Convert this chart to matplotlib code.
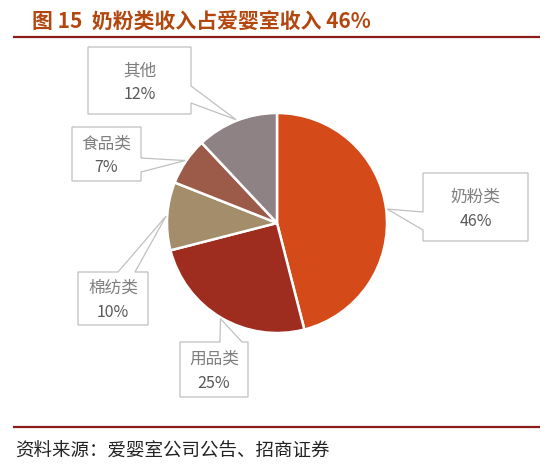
import matplotlib
import numpy as np

from matplotlib import pyplot as plt
from matplotlib.patches import Polygon

matplotlib.rcParams["font.family"] = ["Noto Sans CJK SC", "DejaVu Sans"]

# data
categories = ["奶粉类", "用品类", "棉纺类", "食品类", "其他"]
shares = [46, 25, 10, 7, 12]
colors = ["#D44A18", "#9E2C1F", "#A38D6B", "#9C5B48", "#8F8284"]

title = "图 15  奶粉类收入占爱婴室收入 46%"
source = "资料来源：爱婴室公司公告、招商证券"

# layout (pixels, y down)
W, H = 554, 468
pie_center = (277, 223)
pie_radius = 110
# box: x0, y0, x1, y1, side of pointer, base start, base end
boxes = {
    "奶粉类": (423, 173, 528, 241, "left", 212, 230),
    "用品类": (180, 342, 248, 397, "top", 220, 242),
    "棉纺类": (78, 272, 148, 325, "top", 118, 135),
    "食品类": (72, 127, 141, 181, "right", 158, 172),
    "其他": (88, 47, 191, 114, "right", 86, 103),
}

fig = plt.figure(figsize=(W / 100, H / 100), dpi=100)
ax = fig.add_axes([0, 0, 1, 1])

wedges, _ = ax.pie(
    shares,
    colors=colors,
    startangle=-90,
    counterclock=True,
    center=pie_center,
    radius=pie_radius,
    wedgeprops={"edgecolor": "white", "linewidth": 1.8},
)

ax.set_xlim(0, W)
ax.set_ylim(H, 0)
ax.set_aspect("equal")
ax.axis("off")


def callout(x0, y0, x1, y1, side, b0, b1, tip):
    if side == "right":
        pts = [(x0, y0), (x1, y0), (x1, b0), tip, (x1, b1), (x1, y1), (x0, y1)]
    elif side == "left":
        pts = [(x0, y0), (x1, y0), (x1, y1), (x0, y1), (x0, b1), tip, (x0, b0)]
    else:  # top
        pts = [(x0, y0), (b0, y0), tip, (b1, y0), (x1, y0), (x1, y1), (x0, y1)]
    ax.add_patch(Polygon(pts, closed=True, facecolor="white",
                         edgecolor="#C0C0C0", linewidth=0.9, zorder=3))


for w, name, val in zip(wedges, categories, shares):
    mid = np.deg2rad((w.theta1 + w.theta2) / 2)
    tip = (pie_center[0] + pie_radius * 1.01 * np.cos(mid),
           pie_center[1] + pie_radius * 1.01 * np.sin(mid))
    x0, y0, x1, y1, side, b0, b1 = boxes[name]
    callout(x0, y0, x1, y1, side, b0, b1, tip)
    cx = (x0 + x1) / 2
    cy = (y0 + y1) / 2
    ax.text(cx, cy - 10, name, ha="center", va="center", fontsize=12,
            color="#7F7F7F", zorder=4)
    ax.text(cx, cy + 14, f"{val}%", ha="center", va="center", fontsize=11.5,
            color="#595959", zorder=4)

# title and rules
ax.text(32, 22, title, ha="left", va="center", fontsize=15, fontweight="bold",
        color="#B2480F")
ax.plot([13, 540], [37, 37], color="#8E1B1B", lw=1.6, solid_capstyle="butt")
ax.plot([13, 540], [427, 427], color="#8E1B1B", lw=1.6, solid_capstyle="butt")
ax.text(15, 452, source, ha="left", va="center", fontsize=13.3, color="#222222")

fig.savefig("out.png", dpi=100)
